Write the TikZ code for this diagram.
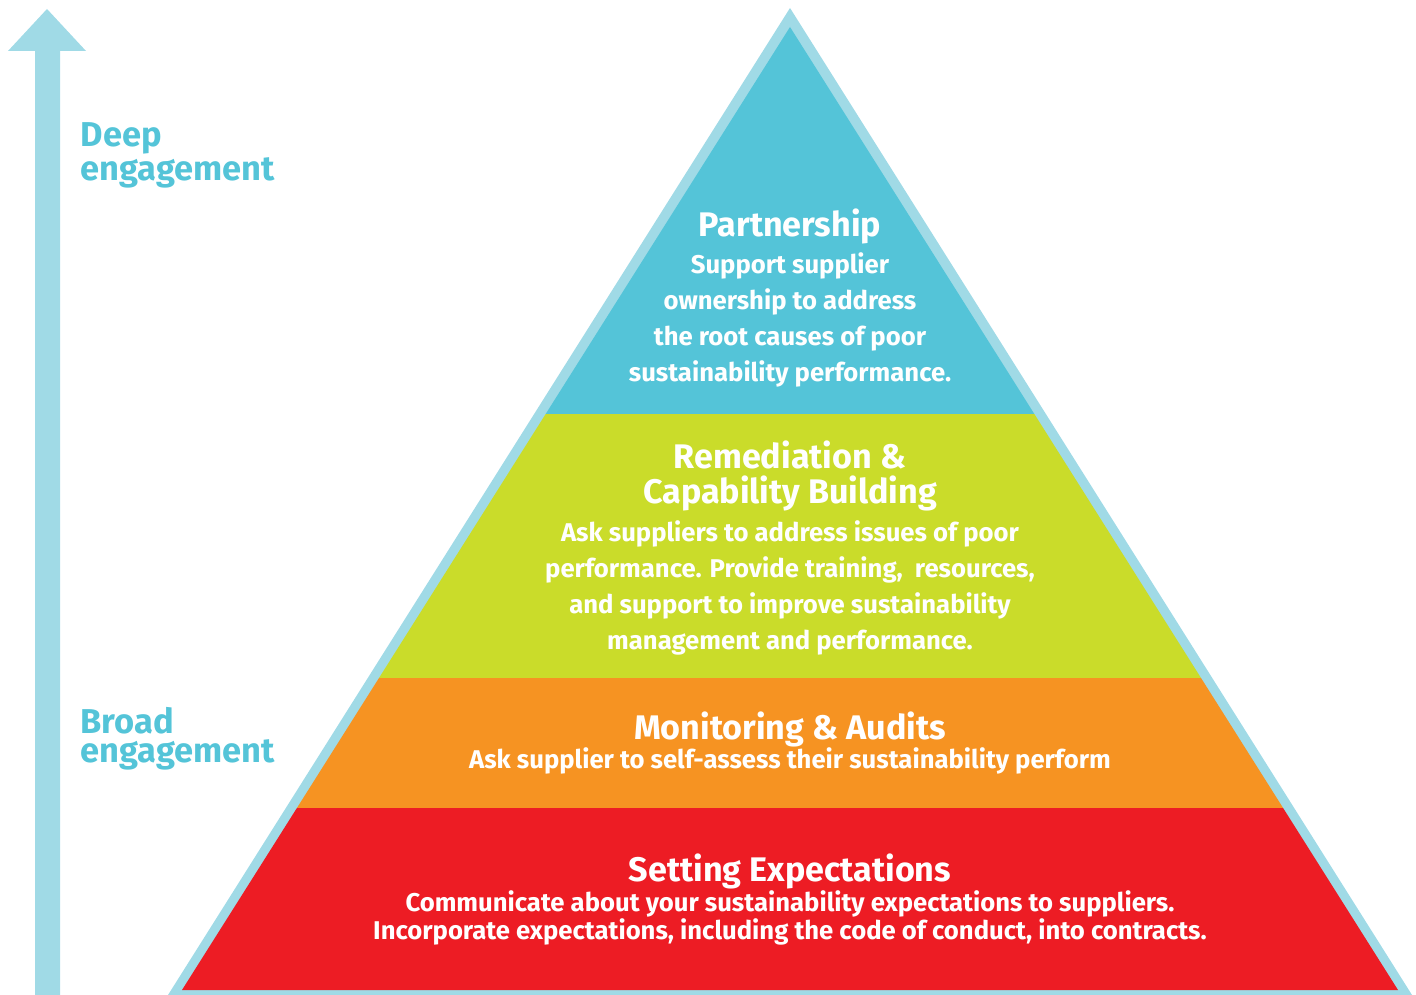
\documentclass[tikz,border=0pt]{standalone}
\usepackage{fontspec}
\setmainfont{Fira Sans}
\usepackage{tikz}
\usepackage{xcolor}

\definecolor{rimblue}{HTML}{A0DAE6}
\definecolor{partnerblue}{HTML}{54C4D8}
\definecolor{remedygreen}{HTML}{CADC2A}
\definecolor{auditorange}{HTML}{F69322}
\definecolor{setred}{HTML}{ED1C24}

\begin{document}
\begin{tikzpicture}[x=0.01cm, y=-0.01cm,
  title/.style={text=white, font=\fontsize{9.7}{10.2}\selectfont\bfseries, align=center, inner sep=0pt},
  body/.style={text=white, font=\fontsize{7.3}{10.2}\selectfont\bfseries, align=center, inner sep=0pt},
  side/.style={text=partnerblue, font=\fontsize{9.8}{8.3}\selectfont\bfseries, align=left, anchor=west, inner sep=0pt}
]
\useasboundingbox (0,0) rectangle (1416,995);
% arrow on the left
\fill[rimblue] (35,995) -- (35,51) -- (8,51) -- (47,9) -- (86,51) -- (60,51) -- (60,995) -- cycle;
\node[side] (deep) at (80,155) {Deep\\engagement};
\node[side] (broad) at (80,739) {Broad\\engagement};
% pyramid
\fill[rimblue] (168,995) -- (790,8) -- (1412,995) -- cycle;
\begin{scope}
\clip (182,990) -- (790,27) -- (1398,990) -- cycle;
\fill[partnerblue] (0,0) rectangle (1416,414);
\fill[remedygreen] (0,414) rectangle (1416,678);
\fill[auditorange] (0,678) rectangle (1416,808);
\fill[setred] (0,808) rectangle (1416,995);
\end{scope}
% texts
\node[title] (partner) at (790,226) {Partnership};
\node[body, anchor=north] (partnertext) at (790,252) {Support supplier\\ownership to address\\the root causes of poor\\sustainability performance.};
\node[title] (remedy) at (790,476) {Remediation \&\\Capability Building};
\node[body, anchor=north] (remedytext) at (790,520) {Ask suppliers to address issues of poor\\performance. Provide training,\ \ resources,\\and support to improve sustainability\\management and performance.};
\node[title] (audit) at (790,729) {Monitoring \& Audits};
\node[body] (audittext) at (790,761) {Ask supplier to self-assess their sustainability perform};
\node[title] (setting) at (790,871) {Setting Expectations};
\node[body] (settingtext) at (790,918) {Communicate about your sustainability expectations to suppliers.\\[-2pt]Incorporate expectations, including the code of conduct, into contracts.};
\end{tikzpicture}
\end{document}
